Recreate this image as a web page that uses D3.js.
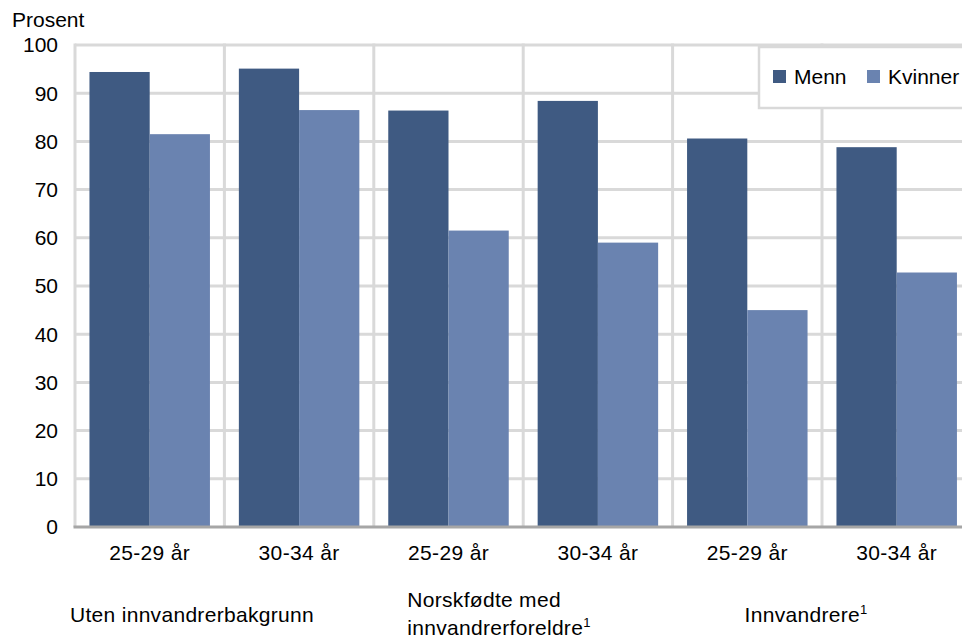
<!DOCTYPE html>
<html>
<head>
<meta charset="utf-8">
<script src="https://cdn.jsdelivr.net/npm/d3@7"></script>
<style>
  html, body { margin: 0; padding: 0; background: #fff; }
  svg { display: block; font-family: "Liberation Sans", Arial, sans-serif; }
</style>
</head>
<body>
<svg id="chart" width="962" height="638"></svg>
<script>
// ---- data ----
const categories = ["25-29 år", "30-34 år", "25-29 år", "30-34 år", "25-29 år", "30-34 år"];
const series = ["Menn", "Kvinner"];
const menn = [94.4, 95.1, 86.4, 88.4, 80.6, 78.8];
const kvinner = [81.5, 86.5, 61.5, 59.0, 45.0, 52.8];
const groups = ["Uten innvandrerbakgrunn", ["Norskfødte med", "innvandrerforeldre"], "Innvandrere"];
const groupFootnote = [false, true, true];
const yTicks = [0, 10, 20, 30, 40, 50, 60, 70, 80, 90, 100];
const yLabel = "Prosent";

const colors = { Menn: "#3F5A82", Kvinner: "#6A83B0" };
const values = { Menn: menn, Kvinner: kvinner };

// ---- layout ----
const svg = d3.select("#chart");
const plotLeft = 75, plotRight = 971.4, plotTop = 45, plotBottom = 527;
const fontSize = 21;

const x0 = d3.scaleBand().domain(d3.range(categories.length)).range([plotLeft, plotRight]).padding(0);
const x1 = d3.scaleBand().domain(series).range([0, x0.bandwidth()]).paddingInner(0).paddingOuter(0.24);
const y = d3.scaleLinear().domain([0, 100]).range([plotBottom, plotTop]);

const grid = svg.append("g");
// horizontal gridlines
grid.selectAll("line.h").data(yTicks.filter(t => t > 0)).join("line")
  .attr("x1", plotLeft).attr("x2", plotRight + 5)
  .attr("y1", d => y(d)).attr("y2", d => y(d))
  .attr("stroke", "#d9d9d9").attr("stroke-width", 3);
// vertical gridlines
grid.selectAll("line.v").data(d3.range(categories.length + 1)).join("line")
  .attr("x1", d => plotLeft + d * x0.step()).attr("x2", d => plotLeft + d * x0.step())
  .attr("y1", y(100) - 1.5).attr("y2", plotBottom)
  .attr("stroke", "#d9d9d9").attr("stroke-width", 3);

// bars
const bars = svg.append("g");
categories.forEach((c, i) => {
  series.forEach(s => {
    bars.append("rect")
      .attr("x", x0(i) + x1(s))
      .attr("width", x1.bandwidth())
      .attr("y", y(values[s][i]))
      .attr("height", y(0) - y(values[s][i]))
      .attr("fill", colors[s]);
  });
});

// x axis baseline
svg.append("line")
  .attr("x1", plotLeft - 1.5).attr("x2", plotRight + 5)
  .attr("y1", plotBottom).attr("y2", plotBottom)
  .attr("stroke", "#a6a6a6").attr("stroke-width", 3);

// y axis tick labels
svg.append("g").selectAll("text").data(yTicks).join("text")
  .attr("x", 58).attr("y", d => y(d))
  .attr("dy", "0.35em")
  .attr("text-anchor", "end")
  .attr("font-size", fontSize)
  .attr("fill", "#000")
  .text(d => d);

svg.append("text")
  .attr("x", 12).attr("y", 27)
  .attr("font-size", fontSize)
  .text(yLabel);

// x tick labels
svg.append("g").selectAll("text").data(categories).join("text")
  .attr("x", (d, i) => x0(i) + x0.bandwidth() / 2)
  .attr("y", 560)
  .attr("text-anchor", "middle")
  .attr("font-size", fontSize)
  .attr("letter-spacing", 0.35)
  .text(d => d);

// group labels (offset from group start)
const groupOffsets = [-5, 33.5, 72];
const groupStart = g => x0(g * 2);
groups.forEach((g, gi) => {
  const lines = Array.isArray(g) ? g : [g];
  const baseY = lines.length === 1 ? 622 : 607;
  lines.forEach((ln, li) => {
    const t = svg.append("text")
      .attr("x", groupStart(gi) + groupOffsets[gi])
      .attr("y", baseY + li * 28)
      .attr("font-size", fontSize)
      .attr("letter-spacing", 0.3)
      .text(ln);
    if (groupFootnote[gi] && li === lines.length - 1) {
      t.append("tspan").attr("font-size", 13).attr("dy", -8).text("1");
    }
  });
});

// legend
const lg = svg.append("g");
lg.append("rect")
  .attr("x", 759).attr("y", 47).attr("width", 230).attr("height", 61)
  .attr("fill", "#fff").attr("stroke", "#d9d9d9").attr("stroke-width", 2.5);
const legendX = [773, 867];
series.forEach((s, i) => {
  lg.append("rect").attr("x", legendX[i]).attr("y", 70).attr("width", 13).attr("height", 13)
    .attr("fill", colors[s]);
  lg.append("text").attr("x", legendX[i] + 21).attr("y", 83.5)
    .attr("font-size", fontSize).text(s);
});
</script>
</body>
</html>
